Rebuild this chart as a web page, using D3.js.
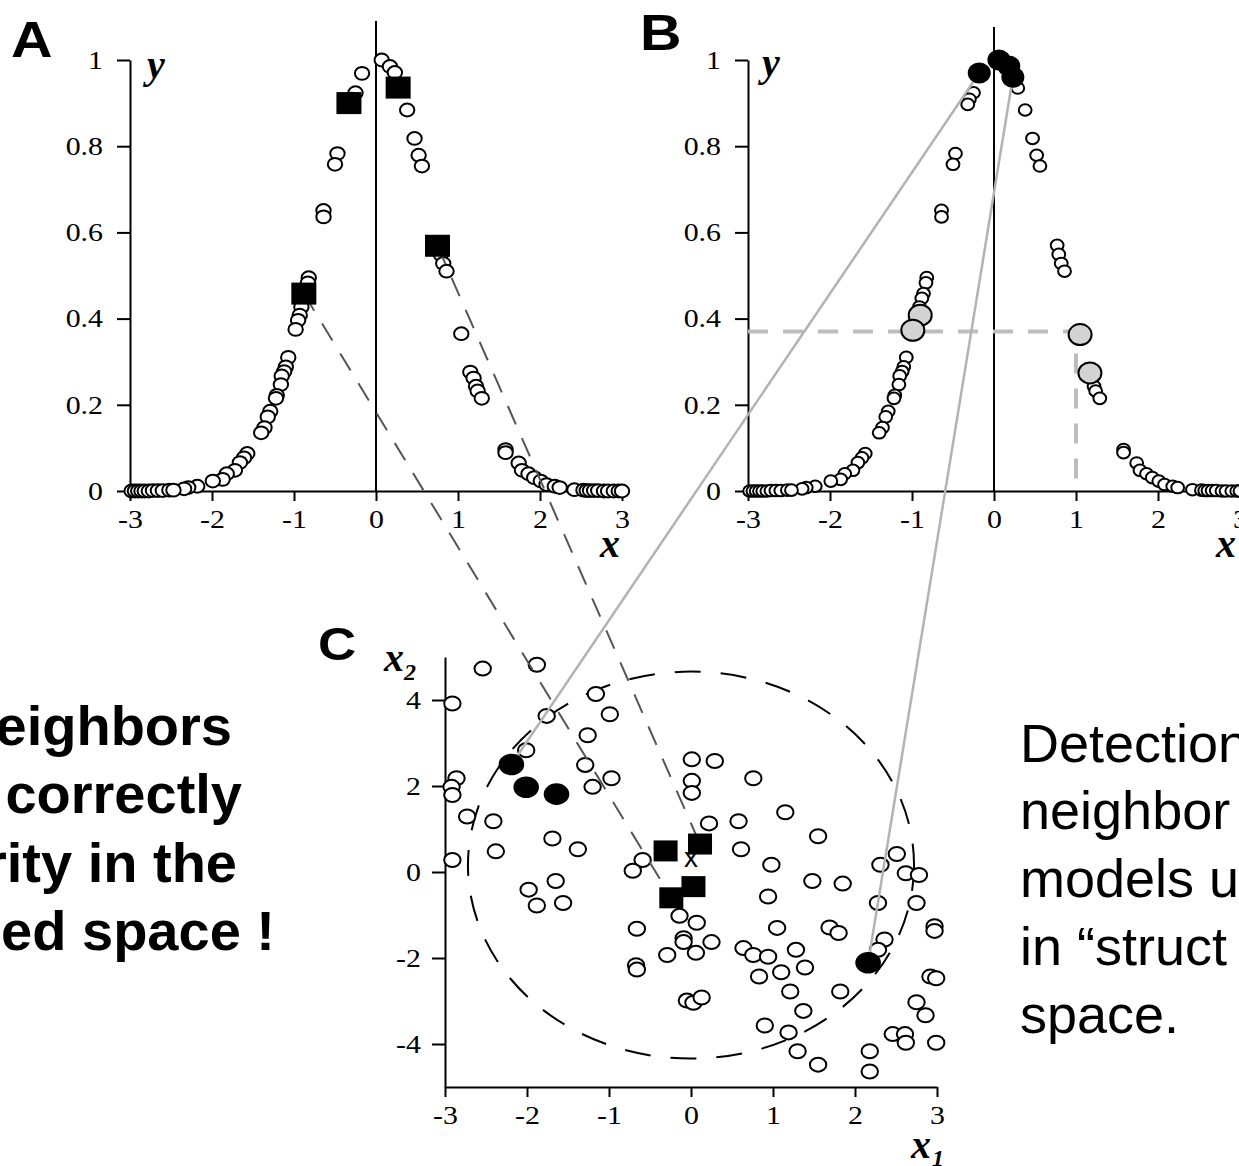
<!DOCTYPE html>
<html>
<head>
<meta charset="utf-8">
<script src="https://cdn.jsdelivr.net/npm/d3@7"></script>
<style>
  body { margin: 0; background: #fff; }
  svg { display: block; }
  .axis path, .axis line { stroke: #000; stroke-width: 2; }
  .axis .tick text { font-family: "Liberation Serif", "Times New Roman", serif; font-size: 26px; fill: #000; }
  .lbl { font-family: "Liberation Serif", "Times New Roman", serif; font-weight: bold; font-style: italic; }
  .panel { font-family: "Liberation Sans", Arial, sans-serif; font-weight: bold; }
</style>
</head>
<body>
<svg id="fig" width="1239" height="1166"></svg>
<script>
// training set (x, y) shown in panels A and B
var curve = [
  [0.07, 1.0], [0.17, 0.985], [0.23, 0.971], [-0.17, 0.969], [0.29, 0.935], [-0.25, 0.924],
  [-0.30, 0.909], [-0.32, 0.897], [0.38, 0.884], [0.47, 0.818], [0.52, 0.779], [0.56, 0.754],
  [-0.47, 0.783], [-0.50, 0.758], [-0.64, 0.651], [-0.64, 0.636], [0.77, 0.570], [0.79, 0.549],
  [0.82, 0.528], [0.86, 0.510], [-0.82, 0.495], [-0.83, 0.483], [-0.86, 0.458], [-0.88, 0.447],
  [-0.91, 0.427], [-0.93, 0.408], [-0.95, 0.396], [-0.98, 0.375], [1.04, 0.365],
  [-1.07, 0.310], [-1.10, 0.288], [-1.12, 0.277], [-1.15, 0.267], [-1.16, 0.247], [-1.21, 0.222],
  [-1.22, 0.215], [-1.29, 0.185], [-1.32, 0.172], [-1.36, 0.147], [-1.40, 0.135],
  [1.15, 0.276], [1.19, 0.262], [1.22, 0.243], [1.24, 0.232], [1.29, 0.215],
  [-1.57, 0.087], [-1.61, 0.077], [-1.66, 0.066], [-1.72, 0.048], [-1.82, 0.040], [-1.87, 0.027],
  [-1.99, 0.023], [1.58, 0.096], [1.58, 0.089], [1.74, 0.065], [1.78, 0.048], [1.86, 0.040],
  [1.93, 0.031], [2.01, 0.023], [2.08, 0.015], [2.18, 0.011], [2.24, 0.008],
  [-2.18, 0.011], [-2.29, 0.008], [-2.34, 0.005],
  [-2.98, 0.0], [-2.94, 0.0], [-2.90, 0.0], [-2.86, 0.0], [-2.82, 0.0], [-2.77, 0.0],
  [-2.72, 0.001], [-2.66, 0.001], [-2.60, 0.001], [-2.52, 0.002], [-2.47, 0.002],
  [2.42, 0.003], [2.53, 0.002], [2.57, 0.001], [2.61, 0.001], [2.66, 0.001], [2.71, 0.001],
  [2.78, 0.0], [2.83, 0.0], [2.90, 0.0], [2.96, 0.0], [3.0, 0.0]
];

// panel A: query compounds (black squares)
var squaresA = [[-0.33, 0.900], [0.27, 0.936], [0.75, 0.569], [-0.88, 0.458]];
// panel B: neighbours found in structure space (black) and the y-similar ones (grey)
var blackB = [[-0.18, 0.970], [0.06, 1.0], [0.18, 0.986], [0.23, 0.960]];
var greyB = [[-0.90, 0.408], [-0.99, 0.373], [1.05, 0.363], [1.17, 0.274]];
var guideB = [1.0, 0.37];

// panel C: descriptor space
var openC = [
  [-2.54, 4.73], [-1.88, 4.82], [-2.91, 3.92], [-1.16, 4.14], [-0.99, 3.67], [-1.76, 3.63],
  [-1.26, 3.18], [-2.01, 2.83], [-1.29, 2.49], [-0.97, 2.18], [-1.20, 1.98], [-2.86, 2.18],
  [-2.92, 1.98], [-2.91, 1.79], [-2.73, 1.29], [-2.41, 1.18], [-2.38, 0.48], [-2.91, 0.28],
  [-1.69, 0.78], [-1.38, 0.53], [-1.65, -0.21], [-1.98, -0.41], [-1.88, -0.78], [-1.56, -0.72],
  [0.01, 2.62], [0.29, 2.58], [0.01, 2.12], [0.01, 1.84], [0.76, 2.18], [0.22, 1.13],
  [0.58, 1.18], [1.15, 1.39], [0.61, 0.53], [1.55, 0.83], [-0.59, 0.28], [-0.71, 0.03],
  [0.98, 0.17], [1.48, -0.21], [1.85, -0.27], [0.94, -0.57], [2.51, 0.42], [2.31, 0.17],
  [2.62, -0.03], [2.78, -0.07], [2.28, -0.72], [2.75, -0.72], [2.97, -1.26], [2.97, -1.37],
  [2.36, -1.57], [2.28, -1.81], [1.05, -1.30], [1.69, -1.29], [1.80, -1.42], [-0.66, -1.32],
  [-0.14, -1.02], [0.07, -1.18], [-0.09, -1.54], [-0.09, -1.63], [0.25, -1.63], [0.06, -1.88],
  [-0.29, -1.93], [-0.67, -2.17], [-0.66, -2.27], [0.64, -1.77], [0.76, -1.93], [0.94, -1.97],
  [1.28, -1.81], [1.39, -2.22], [1.10, -2.33], [0.83, -2.43], [1.21, -2.78], [1.82, -2.78],
  [1.37, -3.23], [-0.05, -2.99], [0.03, -3.04], [0.13, -2.92], [0.90, -3.57], [1.19, -3.73],
  [1.30, -4.17], [1.55, -4.48], [2.18, -4.17], [2.18, -4.64], [2.75, -3.03], [2.86, -3.33],
  [2.92, -2.43], [2.99, -2.47], [2.46, -3.77], [2.61, -3.77], [2.62, -3.97], [2.99, -3.97]
];
var squaresC = [[-0.31, 0.49], [0.11, 0.65], [0.03, -0.34], [-0.24, -0.60]];
var blackC = [[-2.19, 2.50], [-2.01, 1.97], [-1.64, 1.81], [2.16, -2.11]];
var queryC = [0.0, 0.16];
var radiusC = [2.72, 4.5];

// which marks are joined across panels: [A square, C square] and [B black, C black]
var dashLinks = [[3, 3], [2, 1]];
var greyLinks = [[0, 0], [3, 3]];

var ticksXY = [-3, -2, -1, 0, 1, 2, 3];
var ticksY = [0, 0.2, 0.4, 0.6, 0.8, 1];
var ticksC = [-4, -2, 0, 2, 4];

var svg = d3.select('#fig');
var STRETCH = 1.15;

var xA = d3.scaleLinear().domain([-3, 3]).range([130, 622]);
var yA = d3.scaleLinear().domain([0, 1]).range([491, 60]);
var xB = d3.scaleLinear().domain([-3, 3]).range([748, 1240]);
var yB = yA;
var xC = d3.scaleLinear().domain([-3, 3]).range([445, 937]);
var yC = d3.scaleLinear().domain([-5, 5]).range([1087, 657]);

function fmt(d) { return String(d); }

// stretch tick labels sideways like the scanned figure
function widen(g) {
  g.selectAll('.tick text').each(function () {
    var t = d3.select(this);
    t.attr('x', (+t.attr('x') || 0) / STRETCH).attr('transform', 'scale(' + STRETCH + ',1)');
  });
}

function axes(x, y, yTicks, o) {
  var gx = svg.append('g').attr('class', 'axis')
    .attr('transform', 'translate(0,' + y.range()[0] + ')')
    .call(d3.axisBottom(x).tickValues(ticksXY).tickFormat(fmt)
      .tickSize(o.xt).tickPadding(o.xp).tickSizeOuter(0));
  widen(gx);
  var gy = svg.append('g').attr('class', 'axis')
    .attr('transform', 'translate(' + x.range()[0] + ',0)')
    .call(d3.axisLeft(y).tickValues(yTicks).tickFormat(fmt)
      .tickSize(o.yt).tickPadding(o.yp).tickSizeOuter(0));
  widen(gy);
}

function dots(data, x, y, rx, ry, fill) {
  svg.append('g').selectAll('ellipse').data(data).join('ellipse')
    .attr('cx', function (d) { return x(d[0]); })
    .attr('cy', function (d) { return y(d[1]); })
    .attr('rx', rx).attr('ry', ry)
    .attr('fill', fill).attr('stroke', '#000').attr('stroke-width', 2);
}

function squares(data, x, y, w, h) {
  svg.append('g').selectAll('rect').data(data).join('rect')
    .attr('x', function (d) { return x(d[0]) - w / 2; })
    .attr('y', function (d) { return y(d[1]) - h / 2; })
    .attr('width', w).attr('height', h)
    .attr('fill', '#000');
}

function label(txt, x, y, size, cls, sx) {
  svg.append('text').attr('class', cls)
    .attr('transform', 'translate(' + x + ',' + y + ') scale(' + (sx || 1) + ',1)')
    .style('font-size', size + 'px')
    .text(txt);
}

/* ============ PANEL A ============ */
axes(xA, yA, ticksY, { xt: 10, xp: 9, yt: 13, yp: 14 });
svg.append('line').attr('x1', xA(0)).attr('x2', xA(0)).attr('y1', 21).attr('y2', yA(0))
  .attr('stroke', '#000').attr('stroke-width', 2);
dots(curve, xA, yA, 7.2, 6.4, '#fff');
label('y', 147, 78, 40, 'lbl');
label('x', 600, 557, 40, 'lbl');

/* ============ PANEL B ============ */
axes(xB, yB, ticksY, { xt: 10, xp: 9, yt: 13, yp: 14 });
svg.append('line').attr('x1', xB(0)).attr('x2', xB(0)).attr('y1', 27).attr('y2', yB(0))
  .attr('stroke', '#000').attr('stroke-width', 2);
svg.append('path')
  .attr('d', 'M' + xB(-3) + ',' + yB(guideB[1]) + 'H' + xB(guideB[0]) + 'V' + yB(0))
  .attr('fill', 'none').attr('stroke', '#bdbdbd').attr('stroke-width', 4)
  .attr('stroke-dasharray', '20,15');
dots(curve, xB, yB, 6.4, 5.8, '#fff');
label('y', 762, 76, 40, 'lbl');
label('x', 1216, 557, 40, 'lbl');

/* ============ PANEL C ============ */
axes(xC, yC, ticksC, { xt: 10, xp: 9, yt: 13, yp: 11 });
svg.append('ellipse')
  .attr('cx', xC(queryC[0])).attr('cy', yC(queryC[1]))
  .attr('rx', xC(radiusC[0]) - xC(0)).attr('ry', yC(0) - yC(radiusC[1]))
  .attr('fill', 'none').attr('stroke', '#000').attr('stroke-width', 2)
  .attr('stroke-dasharray', '26,20');
dots(openC, xC, yC, 8.2, 7, '#fff');
svg.append('text')
  .attr('x', xC(queryC[0])).attr('y', yC(queryC[1]) + 2)
  .attr('text-anchor', 'middle')
  .style('font-family', '"Liberation Sans", Arial, sans-serif').style('font-size', '28px')
  .text('x');
label('x', 384, 671, 40, 'lbl');
label('2', 404, 680, 24, 'lbl');
label('x', 911, 1158, 40, 'lbl');
label('1', 932, 1166, 24, 'lbl');

/* ============ CONNECTORS ============ */
dashLinks.forEach(function (l) {
  var a = squaresA[l[0]], c = squaresC[l[1]];
  svg.append('line')
    .attr('x1', xA(a[0])).attr('y1', yA(a[1]))
    .attr('x2', xC(c[0])).attr('y2', yC(c[1]))
    .attr('stroke', '#555').attr('stroke-width', 2).attr('stroke-dasharray', '20,15');
});
greyLinks.forEach(function (l) {
  var b = blackB[l[0]], c = blackC[l[1]];
  svg.append('line')
    .attr('x1', xB(b[0])).attr('y1', yB(b[1]))
    .attr('x2', xC(c[0])).attr('y2', yC(c[1]))
    .attr('stroke', '#b3b3b3').attr('stroke-width', 2.5);
});

/* ============ HIGHLIGHTED MARKS ============ */
squares(squaresA, xA, yA, 25, 22);
dots(greyB, xB, yB, 11.5, 10.5, '#d3d3d3');
dots(blackB, xB, yB, 10.5, 9.5, '#000');
squares(squaresC, xC, yC, 24, 21);
dots(blackC, xC, yC, 11.8, 9.8, '#000');

/* ============ PANEL LETTERS & TEXT ============ */
label('A', 11, 57, 50, 'panel', 1.15);
label('B', 640, 50, 50, 'panel', 1.15);
label('C', 318, 660, 46, 'panel', 1.15);

var leftLines = ['eighbors', 'correctly', 'rity in the', 'ed space !'];
var leftEnds = [232, 242, 237, 275];
var leftBase = [745, 813, 882, 950];
leftLines.forEach(function (t, i) {
  svg.append('text').attr('x', leftEnds[i]).attr('y', leftBase[i])
    .attr('text-anchor', 'end')
    .style('font-family', '"Liberation Sans", Arial, sans-serif')
    .style('font-weight', 'bold').style('font-size', '56px')
    .text(t);
});

var rightLines = ['Detection', 'neighbor', 'models u', 'in \u201cstruct', 'space.'];
var rightBase = [762, 829, 897, 965, 1033];
rightLines.forEach(function (t, i) {
  svg.append('text').attr('x', 1020).attr('y', rightBase[i])
    .style('font-family', '"Liberation Sans", Arial, sans-serif')
    .style('font-size', '54px')
    .text(t);
});
</script>
</body>
</html>
